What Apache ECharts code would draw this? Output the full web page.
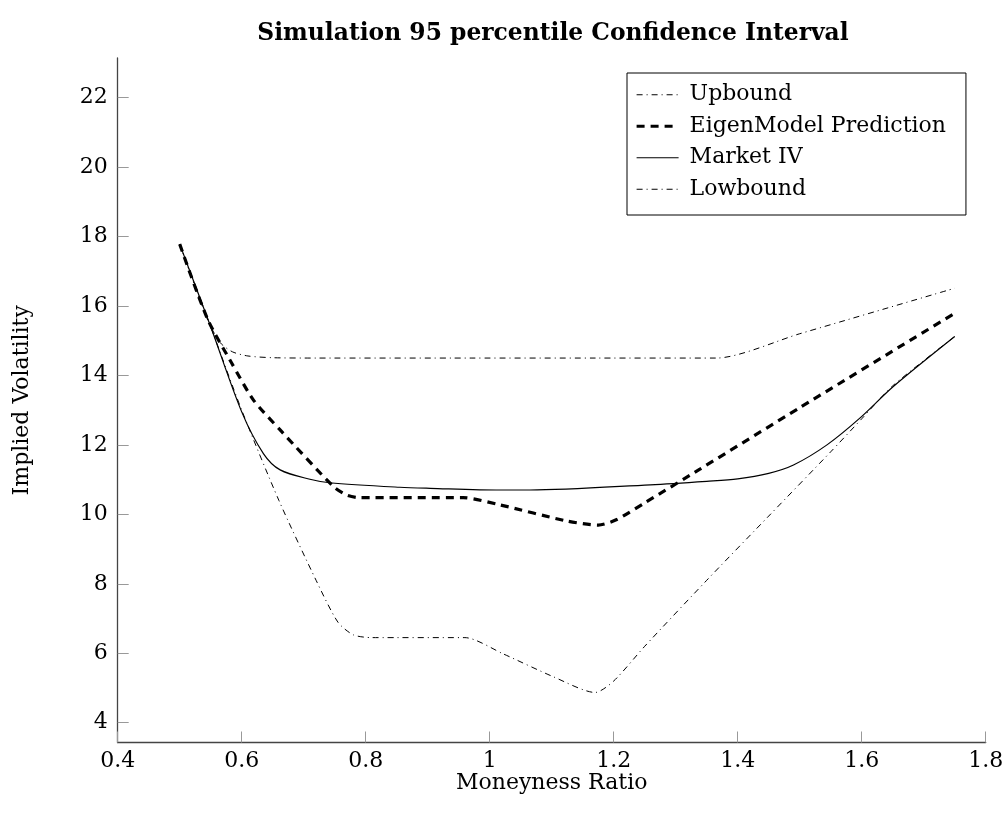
<!DOCTYPE html>
<html>
<head>
<meta charset="utf-8">
<script src="https://cdn.jsdelivr.net/npm/echarts@6/dist/echarts.min.js"></script>
<style>
  html, body { margin: 0; padding: 0; background: #fff; }
  #chart { width: 1007px; height: 816px; }
</style>
</head>
<body>
<div id="chart"></div>
<script>
// Moneyness ratio vs implied volatility, sampled along each curve
const upbound = [
  [0.5, 17.78], [0.545, 15.6], [0.565, 14.95], [0.585, 14.68], [0.61, 14.56],
  [0.65, 14.51], [0.72, 14.5], [0.97, 14.5], [1.17, 14.5], [1.366, 14.5],
  [1.5, 15.2], [1.75, 16.51]
];
const eigenModel = [
  [0.5, 17.78], [0.545, 15.62], [0.584, 14.35], [0.619, 13.29], [0.662, 12.43],
  [0.748, 10.8], [0.769, 10.56], [0.79, 10.48], [0.957, 10.48], [1.017, 10.27],
  [1.124, 9.81], [1.175, 9.69], [1.205, 9.85], [1.25, 10.33], [1.339, 11.3],
  [1.5, 13.07], [1.75, 15.79]
];
const marketIV = [
  [0.5, 17.78], [0.55, 15.4], [0.6, 12.95], [0.635, 11.75], [0.662, 11.28],
  [0.71, 11.01], [0.742, 10.91], [0.855, 10.78], [0.904, 10.75], [1.017, 10.7],
  [1.065, 10.7], [1.259, 10.85], [1.35, 10.95], [1.4, 11.02], [1.45, 11.18],
  [1.49, 11.42], [1.544, 12.0], [1.597, 12.77], [1.651, 13.68], [1.75, 15.12]
];
const lowbound = [
  [0.5, 17.78], [0.55, 15.4], [0.6, 13.0], [0.66, 10.4], [0.72, 8.1],
  [0.755, 6.9], [0.78, 6.53], [0.81, 6.45], [0.96, 6.45],
  [1.022, 5.98], [1.103, 5.32], [1.17, 4.87], [1.2, 5.2], [1.25, 6.2],
  [1.35, 8.1], [1.45, 9.95], [1.55, 11.8], [1.6, 12.75], [1.65, 13.7],
  [1.75, 15.12]
];
const xTicks = [0.4, 0.6, 0.8, 1, 1.2, 1.4, 1.6, 1.8];
const yTicks = [4, 6, 8, 10, 12, 14, 16, 18, 20, 22];
const seriesNames = ['Upbound', 'EigenModel Prediction', 'Market IV', 'Lowbound'];

const FONT = '"DejaVu Serif", "Liberation Serif", serif';

// line looks shared by each curve and its legend entry
const dashDot = { color: '#000', width: 1, type: [6, 4, 1, 4] };
const thickDash = { color: '#000', width: 3.2, type: [8, 6] };
const thinSolid = { color: '#000', width: 1.2, type: 'solid' };
const lineLooks = [dashDot, thickDash, thinSolid, dashDot];

const chart = echarts.init(document.getElementById('chart'), null, { renderer: 'canvas' });

chart.setOption({
  animation: false,
  backgroundColor: '#ffffff',
  color: ['#000', '#000', '#000', '#000'],
  title: {
    text: 'Simulation 95 percentile Confidence Interval',
    left: 553,
    top: 22,
    textAlign: 'center',
    padding: 0,
    textStyle: { fontFamily: FONT, fontSize: 23.4, fontWeight: 'bold', color: '#000' }
  },
  grid: { left: 117.7, right: 21.3, top: 58, bottom: 73.5, containLabel: false },
  legend: {
    orient: 'vertical',
    left: 627,
    top: 73,
    itemWidth: 42,
    itemHeight: 14,
    itemGap: 0,
    padding: [6, 20, 10, 8],
    borderColor: '#000',
    borderWidth: 1,
    selectedMode: false,
    itemStyle: { opacity: 0 },
    textStyle: { fontFamily: FONT, fontSize: 22, color: '#000', lineHeight: 31.5, padding: [0, 0, 0, 6] },
    data: seriesNames.map((n, i) => ({ name: n, lineStyle: lineLooks[i] }))
  },
  xAxis: {
    type: 'value',
    min: 0.4,
    max: 1.8,
    name: 'Moneyness Ratio',
    nameLocation: 'middle',
    nameGap: 30,
    nameMoveOverlap: false,
    nameTextStyle: { fontFamily: FONT, fontSize: 22, color: '#000', verticalAlign: 'top' },
    axisLine: { show: true, onZero: false, lineStyle: { color: '#444', width: 1.3 } },
    axisTick: { show: true, inside: true, length: 11, customValues: xTicks, lineStyle: { color: '#999', width: 1 } },
    axisLabel: {
      customValues: xTicks,
      margin: 8,
      fontFamily: FONT, fontSize: 22, color: '#000',
      formatter: v => (Math.round(v * 10) / 10).toString()
    },
    splitLine: { show: false }
  },
  yAxis: {
    type: 'value',
    min: 3.43,
    max: 23.14,
    name: 'Implied Volatility',
    nameLocation: 'middle',
    nameGap: 84,
    nameMoveOverlap: false,
    nameRotate: 90,
    nameTextStyle: { fontFamily: FONT, fontSize: 22, color: '#000' },
    axisLine: { show: true, onZero: false, lineStyle: { color: '#444', width: 1.3 } },
    axisTick: { show: true, inside: true, length: 11, customValues: yTicks, lineStyle: { color: '#999', width: 1 } },
    axisLabel: {
      customValues: yTicks,
      margin: 10,
      fontFamily: FONT, fontSize: 22, color: '#000',
      formatter: v => Math.round(v).toString()
    },
    splitLine: { show: false }
  },
  series: [
    { name: seriesNames[0], type: 'line', data: upbound, symbol: 'none', smooth: 0.25, lineStyle: dashDot },
    { name: seriesNames[1], type: 'line', data: eigenModel, symbol: 'none', smooth: 0.25, lineStyle: thickDash },
    { name: seriesNames[2], type: 'line', data: marketIV, symbol: 'none', smooth: 0.3, lineStyle: thinSolid },
    { name: seriesNames[3], type: 'line', data: lowbound, symbol: 'none', smooth: 0.25, lineStyle: dashDot }
  ]
});
</script>
</body>
</html>
